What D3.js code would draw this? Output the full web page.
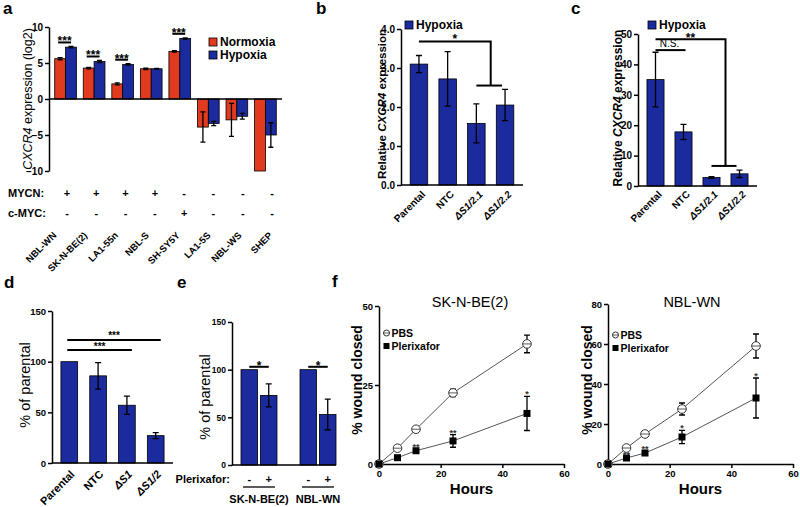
<!DOCTYPE html>
<html>
<head>
<meta charset="utf-8">
<script src="https://cdn.jsdelivr.net/npm/d3@7/dist/d3.min.js"></script>
<style>
  body { margin: 0; background: #fff; }
  svg { font-family: Arial, "Liberation Sans", sans-serif; }
  .axis path, .axis line { stroke: #000; stroke-width: 1.5; }
  .axis text { font-weight: bold; fill: #000; }
  .bar { stroke: #000; stroke-width: 0.8; }
  .err { stroke: #000; stroke-width: 1.3; fill: none; }
  .sig { stroke: #000; stroke-width: 2; fill: none; }
</style>
</head>
<body>
<svg id="fig" width="800" height="507"></svg>
<script>
// ---- a: CXCR4 in cell lines ----
const cellLines = ['NBL-WN', 'SK-N-BE(2)', 'LA1-55n', 'NBL-S', 'SH-SY5Y', 'LA1-5S', 'NBL-WS', 'SHEP'];
const normoxia = [5.6, 4.3, 2.1, 4.2, 6.6, -3.9, -2.9, -10.0];
const normoxiaErr = [0.15, 0.1, 0.15, 0.1, 0.1, 2.1, 2.3, 0];
const hypoxia = [7.2, 5.2, 4.8, 4.2, 8.4, -3.4, -2.4, -5.0];
const hypoxiaErr = [0.1, 0.15, 0.1, 0.05, 0.1, 0.3, 0.4, 1.7];
const mycn = ['+', '+', '+', '+', '-', '-', '-', '-'];
const cmyc = ['-', '-', '-', '-', '+', '-', '-', '-'];
const sigA = ['NBL-WN', 'SK-N-BE(2)', 'LA1-55n', 'SH-SY5Y'];
const ticksA = [-10, -5, 0, 5, 10];

// ---- b, c: knockdown clones ----
const clones = ['Parental', 'NTC', 'ΔS1/2.1', 'ΔS1/2.2'];
const bValues = [3.1, 2.72, 1.58, 2.05];
const bErr = [0.22, 0.7, 0.5, 0.4];
const bBracket = [3.68, 2.55];
const cValues = [35, 17.8, 2.8, 4.0];
const cErr = [9, 2.5, 0.3, 1.2];
const cBracket = [48.3, 6.6];
const cNS = 44.7;

// ---- d: migration of clones ----
const dCats = ['Parental', 'NTC', 'ΔS1', 'ΔS1/2'];
const dValues = [100, 86, 57, 27];
const dErr = [0, 13, 9, 3];
const dSig = [['ΔS1', 111.5], ['ΔS1/2', 121.5]];

// ---- e: plerixafor ----
const eCells = ['SK-N-BE(2)', 'NBL-WN'];
const eTreat = ['-', '+'];
const eValues = [[100, 73], [100, 53]];
const eErr = [[0, 12], [0, 16]];
const eSig = 103;

// ---- f: wound closure ----
const hours = [0, 6, 12, 24, 48];
const skPbs = [0, 5, 11, 22.5, 38];
const skPbsErr = [0, 0.4, 0.6, 1.2, 2.8];
const skPlx = [0, 2, 4.2, 7.3, 16];
const skPlxErr = [0, 0.4, 0.6, 2, 5.4];
const skStars = ['', '', '**', '**', '*'];
const wnPbs = [0, 8, 15, 27.5, 59];
const wnPbsErr = [0, 0.5, 0.6, 3, 6];
const wnPlx = [0, 3, 5.5, 13.5, 33];
const wnPlxErr = [0, 0.5, 1, 3.3, 10];
const wnStars = ['', '**', '**', '*', '*'];

const BLUE = '#1b2a9c';
const RED = '#e23a1e';
const svg = d3.select('#fig');

function leftAxis(scale, x, ticks, size) {
    const g = svg.append('g').attr('class', 'axis').attr('transform', `translate(${x},0)`)
        .call(d3.axisLeft(scale).tickValues(ticks).tickSize(4).tickSizeOuter(0).tickPadding(2));
    g.selectAll('text').style('font-size', size + 'px');
    return g;
}

function bottomAxis(scale, y, ticks, size) {
    const g = svg.append('g').attr('class', 'axis').attr('transform', `translate(0,${y})`)
        .call(d3.axisBottom(scale).tickValues(ticks).tickSize(4).tickSizeOuter(0).tickPadding(2));
    g.selectAll('text').style('font-size', size + 'px');
    return g;
}

function hline(x1, x2, y, cls = 'sig') {
    svg.append('path').attr('class', cls).attr('d', `M${x1},${y}H${x2}`);
}

function bar(x, w, y0, y1, color) {
    svg.append('rect').attr('class', 'bar')
        .attr('x', x).attr('width', w)
        .attr('y', Math.min(y0, y1)).attr('height', Math.abs(y1 - y0))
        .attr('fill', color);
}

function errorBar(x, yLo, yHi, cap) {
    svg.append('path').attr('class', 'err')
        .attr('d', `M${x},${yLo}V${yHi}M${x - cap},${yHi}H${x + cap}M${x - cap},${yLo}H${x + cap}`);
}

function label(x, y, str, size, opts = {}) {
    return svg.append('text').attr('x', x).attr('y', y)
        .attr('text-anchor', opts.anchor || 'start')
        .style('font-size', size + 'px')
        .style('font-weight', opts.bold ? 'bold' : 'normal')
        .style('font-style', opts.italic ? 'italic' : 'normal')
        .text(str);
}

// rotation written out as a matrix: angle in degrees, pivot at (x, y)
function rotated(x, y, angle) {
    const r = angle * Math.PI / 180;
    const c = Math.cos(r).toFixed(4), s = Math.sin(r).toFixed(4);
    return svg.append('g').attr('transform', `matrix(${c},${s},${-s},${c},${x},${y})`);
}

function yTitle(x, y, parts, size, bold) {
    const t = rotated(x, y, -90).append('text')
        .attr('x', 0).attr('y', 0)
        .attr('text-anchor', 'middle').style('font-size', size + 'px')
        .style('font-weight', bold ? 'bold' : 'normal');
    parts.forEach(p => t.append('tspan').style('font-style', p.i ? 'italic' : 'normal').text(p.t));
}

function rotLabels(names, xPos, y, size) {
    names.forEach(n => {
        rotated(xPos(n), y, -45).append('text')
            .attr('x', 0).attr('y', 0)
            .attr('text-anchor', 'end')
            .style('font-size', size + 'px').style('font-weight', 'bold')
            .style('font-style', n.startsWith('Δ') ? 'italic' : 'normal')
            .text(n);
    });
}

function legendBox(x, y, color, str) {
    svg.append('rect').attr('class', 'bar').attr('x', x).attr('y', y)
        .attr('width', 8).attr('height', 8).attr('fill', color);
    label(x + 11, y + 8, str, 12, { bold: true });
}

// ================= panel a =================
const xA = d3.scaleBand().domain(cellLines).range([49, 282]).paddingInner(0.24).paddingOuter(0.2);
const xAin = d3.scaleBand().domain(['N', 'H']).range([0, xA.bandwidth()]);
const yA = d3.scaleLinear().domain([-10, 10]).range([171, 27]);

cellLines.forEach((c, i) => {
    const pairs = [['N', normoxia[i], normoxiaErr[i], RED], ['H', hypoxia[i], hypoxiaErr[i], BLUE]];
    pairs.forEach(([k, v, e, col]) => {
        const x = xA(c) + xAin(k);
        bar(x, xAin.bandwidth(), yA(0), yA(v), col);
        if (e > 0) errorBar(x + xAin.bandwidth() / 2, yA(v - e), yA(v + e), 2.5);
    });
});
leftAxis(yA, 49, ticksA, 10);
hline(49, 282, yA(0), 'err');

sigA.forEach(c => {
    const i = cellLines.indexOf(c);
    const y = yA(hypoxia[i] + hypoxiaErr[i]) - 4;
    const x1 = xA(c) + xAin.bandwidth() / 2 - 2;
    const x2 = xA(c) + xAin('H') + xAin.bandwidth() / 2;
    hline(x1, x2, y);
    label((x1 + x2) / 2, y + 3, '***', 12, { bold: true, anchor: 'middle' });
});

yTitle(32, 99, [{ t: 'CXCR4', i: true }, { t: ' expression (log2)' }], 12.5, false);
legendBox(209, 38, RED, 'Normoxia');
legendBox(209, 51, BLUE, 'Hypoxia');

const pmA = d3.scalePoint().domain(cellLines).range([67, 272]);
label(8, 197, 'MYCN:', 11, { bold: true });
label(8, 217, 'c-MYC:', 11, { bold: true });
cellLines.forEach((c, i) => {
    label(pmA(c), 197, mycn[i], 11, { bold: true, anchor: 'middle' });
    label(pmA(c), 217, cmyc[i], 11, { bold: true, anchor: 'middle' });
});
const labA = d3.scalePoint().domain(cellLines).range([57, 273]);
rotLabels(cellLines, labA, 236, 9.5);

// ================= panel b =================
const xB = d3.scaleBand().domain(clones).range([401, 523]).paddingInner(0.39).paddingOuter(0.32);
const yB = d3.scaleLinear().domain([0, 4]).range([185, 29]);
const cx = (s, c) => s(c) + s.bandwidth() / 2;

clones.forEach((c, i) => {
    bar(xB(c), xB.bandwidth(), yB(0), yB(bValues[i]), BLUE);
    errorBar(cx(xB, c), yB(bValues[i] - bErr[i]), yB(bValues[i] + bErr[i]), 3);
});
leftAxis(yB, 401, [0, 1, 2, 3, 4], 10);
hline(401, 523, yB(0), 'err');
{
    const xm = (cx(xB, clones[2]) + cx(xB, clones[3])) / 2;
    svg.append('path').attr('class', 'sig')
        .attr('d', `M${cx(xB, clones[0])},${yB(bBracket[0])}H${xm}V${yB(bBracket[1])}`);
    hline(cx(xB, clones[2]), cx(xB, clones[3]) - 3, yB(bBracket[1]));
    label((cx(xB, clones[0]) + xm) / 2, yB(bBracket[0]) + 2, '*', 12, { bold: true, anchor: 'middle' });
}
yTitle(386, 104, [{ t: 'Relative ' }, { t: 'CXCR4', i: true }, { t: ' expression' }], 11.5, true);
legendBox(405, 21, BLUE, 'Hypoxia');
rotLabels(clones, c => cx(xB, c) + 7, 195, 10);

// ================= panel c =================
const xC = d3.scaleBand().domain(clones).range([638, 757]).paddingInner(0.39).paddingOuter(0.32);
const yC = d3.scaleLinear().domain([0, 50]).range([186, 34]);

clones.forEach((c, i) => {
    bar(xC(c), xC.bandwidth(), yC(0), yC(cValues[i]), BLUE);
    errorBar(cx(xC, c), yC(cValues[i] - cErr[i]), yC(cValues[i] + cErr[i]), 3);
});
leftAxis(yC, 638, [0, 10, 20, 30, 40, 50], 10);
hline(638, 757, yC(0), 'err');
{
    const xm = (cx(xC, clones[2]) + cx(xC, clones[3])) / 2;
    svg.append('path').attr('class', 'sig')
        .attr('d', `M${cx(xC, clones[0])},${yC(cBracket[0])}H${xm}V${yC(cBracket[1])}`);
    hline(cx(xC, clones[2]), cx(xC, clones[3]) - 3, yC(cBracket[1]));
    label((cx(xC, clones[0]) + xm) / 2, yC(cBracket[0]) + 3, '**', 12, { bold: true, anchor: 'middle' });
    hline(cx(xC, clones[0]), cx(xC, clones[1]) + 2, yC(cNS));
    label((cx(xC, clones[0]) + cx(xC, clones[1])) / 2, yC(cNS) - 3, 'N.S.', 10, { anchor: 'middle' });
}
yTitle(622, 108, [{ t: 'Relative ' }, { t: 'CXCR4', i: true }, { t: ' expression' }], 12, true);
legendBox(648, 21, BLUE, 'Hypoxia');
rotLabels(clones, c => cx(xC, c) + 7, 195, 10);

// ================= panel d =================
const xD = d3.scaleBand().domain(dCats).range([52, 173]).paddingInner(0.42).paddingOuter(0.31);
const yD = d3.scaleLinear().domain([0, 150]).range([463, 311]);

dCats.forEach((c, i) => {
    bar(xD(c), xD.bandwidth(), yD(0), yD(dValues[i]), BLUE);
    if (dErr[i] > 0) errorBar(cx(xD, c), yD(dValues[i] - dErr[i]), yD(dValues[i] + dErr[i]), 3);
});
leftAxis(yD, 52, [0, 50, 100, 150], 9.5);
hline(52, 173, yD(0), 'err');
dSig.forEach(([c, lvl]) => {
    const x1 = cx(xD, dCats[0]) - 2, x2 = cx(xD, c) + 5;
    hline(x1, x2, yD(lvl));
    label((x1 + x2) / 2, yD(lvl) - 0.5, '***', 10, { bold: true, anchor: 'middle' });
});
yTitle(30, 385, [{ t: '% of parental' }], 14.5, false);
rotLabels(dCats, c => cx(xD, c) + 6, 475, 11);

// ================= panel e =================
const xE = d3.scaleBand().domain(eCells).range([241, 336]).paddingInner(0.39);
const xEin = d3.scaleBand().domain(eTreat).range([0, xE.bandwidth()]).paddingInner(0.15);
const yE = d3.scaleLinear().domain([0, 150]).range([465, 322]);

eCells.forEach((g, gi) => {
    eTreat.forEach((t, ti) => {
        const x = xE(g) + xEin(t);
        const v = eValues[gi][ti], e = eErr[gi][ti];
        bar(x, xEin.bandwidth(), yE(0), yE(v), BLUE);
        if (e > 0) errorBar(x + xEin.bandwidth() / 2, yE(v - e), yE(v + e), 3);
        label(x + xEin.bandwidth() / 2, 483, t, 11, { bold: true, anchor: 'middle' });
    });
    const x1 = xE(g) + xEin.bandwidth() / 2;
    const x2 = xE(g) + xEin('+') + xEin.bandwidth() / 2;
    hline(x1, x2, yE(eSig));
    label((x1 + x2) / 2, yE(eSig) + 3, '*', 12, { bold: true, anchor: 'middle' });
    hline(xE(g) + 2, xE(g) + xE.bandwidth() - 2, 487, 'err');
    label(xE(g) + xE.bandwidth() / 2, 503, g, 11, { bold: true, anchor: 'middle' });
});
leftAxis(yE, 232, [0, 50, 100, 150], 8.5);
hline(232, 336, yE(0), 'err');
label(230, 483, 'Plerixafor:', 11, { bold: true, anchor: 'end' });
yTitle(210, 397, [{ t: '% of parental' }], 14.5, false);

// ================= panel f =================
function pbsMark(x, y, r) {
    svg.append('circle').attr('cx', x).attr('cy', y).attr('r', r)
        .attr('fill', '#fff').attr('stroke', '#333').attr('stroke-width', 1);
    svg.append('path').attr('d', `M${x - r},${y}H${x + r}`).attr('stroke', '#333').attr('stroke-width', 0.8);
}

function woundPanel(cfg) {
    const x = d3.scaleLinear().domain([0, 60]).range(cfg.xr);
    const y = d3.scaleLinear().domain([0, cfg.yMax]).range([464, cfg.yTop]);
    leftAxis(y, cfg.xr[0], cfg.yTicks, 9.5);
    bottomAxis(x, 464, [0, 20, 40, 60], 9.5);

    const line = d3.line().x((d, i) => x(hours[i])).y(d => y(d));
    [cfg.pbs, cfg.plx].forEach(s => {
        svg.append('path').attr('d', line(s)).attr('fill', 'none')
            .attr('stroke', '#555').attr('stroke-width', 1);
    });
    [[cfg.pbs, cfg.pbsErr], [cfg.plx, cfg.plxErr]].forEach(([s, e]) => {
        s.forEach((v, i) => {
            if (e[i] > 0.5) errorBar(x(hours[i]), y(v - e[i]), y(v + e[i]), 3);
        });
    });
    cfg.pbs.forEach((v, i) => pbsMark(x(hours[i]), y(v), 4.3));
    cfg.plx.forEach((v, i) => {
        svg.append('rect').attr('x', x(hours[i]) - 3.5).attr('y', y(v) - 3.5)
            .attr('width', 7).attr('height', 7).attr('fill', '#000');
    });
    cfg.stars.forEach((s, i) => {
        if (!s) return;
        const top = y(cfg.plx[i] + cfg.plxErr[i]);
        label(x(hours[i]), top + 1, s, 9, { bold: true, anchor: 'middle' }).style('fill', '#333');
    });

    label(cfg.titleX, 307, cfg.title, 14.5, { anchor: 'middle' });
    label(x(30), 494, 'Hours', 15, { bold: true, anchor: 'middle' });
    yTitle(cfg.yLabelX, 380, [{ t: '% wound closed' }], 14, true);

    pbsMark(cfg.leg[0], cfg.leg[1], 3);
    label(cfg.leg[0] + 5, cfg.leg[1] + 4, 'PBS', 10.5, { bold: true });
    svg.append('rect').attr('x', cfg.leg[0] - 3).attr('y', cfg.leg[1] + 10)
        .attr('width', 6).attr('height', 6).attr('fill', '#000');
    label(cfg.leg[0] + 5, cfg.leg[1] + 17, 'Plerixafor', 10.5, { bold: true });
}

woundPanel({
    xr: [379, 564], yMax: 50, yTop: 306, yTicks: [0, 25, 50],
    pbs: skPbs, pbsErr: skPbsErr, plx: skPlx, plxErr: skPlxErr, stars: skStars,
    title: 'SK-N-BE(2)', titleX: 470, yLabelX: 362, leg: [386.5, 333]
});
woundPanel({
    xr: [608, 793], yMax: 80, yTop: 304, yTicks: [0, 20, 40, 60, 80],
    pbs: wnPbs, pbsErr: wnPbsErr, plx: wnPlx, plxErr: wnPlxErr, stars: wnStars,
    title: 'NBL-WN', titleX: 692, yLabelX: 592, leg: [615.5, 335]
});

// panel letters
[['a', 3, 14], ['b', 316, 14], ['c', 571, 14], ['d', 4, 288], ['e', 177, 288], ['f', 332, 287]]
    .forEach(([t, x, y]) => label(x, y, t, 17, { bold: true }));
</script>
</body>
</html>
